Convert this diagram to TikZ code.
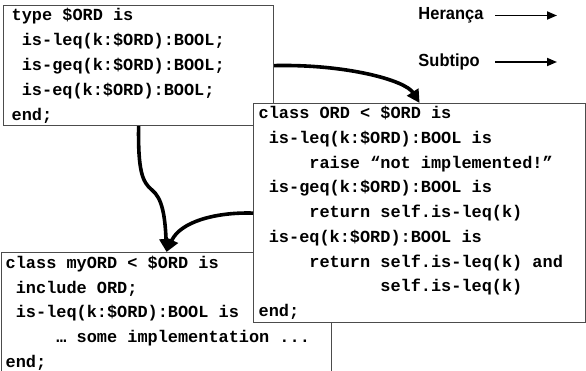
\documentclass[tikz,border=0pt]{standalone}
\usepackage{fontspec}
\setmainfont{Liberation Sans}
\newfontfamily\codefont{Liberation Mono}
\usetikzlibrary{arrows.meta,calc}
\begin{document}
\begin{tikzpicture}[x=1pt,y=-1pt,
  box/.style={draw=black!70, line width=1.2pt, fill=white, anchor=north west, inner sep=0pt},
  % the strut fixes the top of each listing above its first baseline
  code/.style={anchor=north west, align=left, inner sep=0pt,
    font=\codefont\bfseries\fontsize{16.9pt}{24.7pt}\selectfont,
    execute at begin node={\rule{0pt}{15pt}}},
  legend/.style={anchor=west, inner sep=0pt,
    font=\bfseries\fontsize{17.5pt}{19pt}\selectfont},
  link/.style={line width=3.6pt, -{Triangle[length=13pt,width=13pt]}},
  key/.style={line width=1.8pt, -{Triangle[length=10pt,width=8pt]}}]
\useasboundingbox (0,0) rectangle (586,371);
\clip (0,0) rectangle (586,371);
\fill[white] (0,0) rectangle (586,371);

% abstract type
\node[box, minimum width=270pt, minimum height=120pt] (top) at (3,5) {};
\node[code, font=\codefont\bfseries\fontsize{16.9pt}{25pt}\selectfont]
  at ($(top.north west)+(8.5,3)$) {type \$ORD is\\
~is-leq(k:\$ORD):BOOL;\\
~is-geq(k:\$ORD):BOOL;\\
~is-eq(k:\$ORD):BOOL;\\
end;};

% concrete class including ORD
\node[box, minimum width=330pt, minimum height=150pt] (my) at (1,252) {};
\node[code] at ($(my.north west)+(4.5,3.8)$) {class myORD < \$ORD is\\
~include ORD;\\
~is-leq(k:\$ORD):BOOL is\\
~~~~~… some implementation ...\\
end;};

% partial implementation
\node[box, minimum width=332pt, minimum height=219pt] (ord) at (253,103) {};
\node[code] at ($(ord.north west)+(5.5,3.3)$) {class ORD < \$ORD is\\
~is-leq(k:\$ORD):BOOL is\\
~~~~~raise “not implemented!”\\
~is-geq(k:\$ORD):BOOL is\\
~~~~~return self.is-leq(k)\\
~is-eq(k:\$ORD):BOOL is\\
~~~~~return self.is-leq(k) and\\
~~~~~~~~~~~~self.is-leq(k)\\
end;};

% connectors
\draw[link] (top.east) .. controls (345,64) and (405,80) .. (ord.north);
\draw[link] (top.south) .. controls (138,170) and (142,182) .. (152,190)
  .. controls (162,198) and (165,215) .. (my.north);
\draw[link] (ord.west) .. controls (215,212) and (180,222) .. (my.north);

% legend, set slightly condensed
\begin{scope}[xscale=0.94, transform shape]
  \node[legend] (her) at (445,15.5) {Herança};
  \node[legend] (sub) at (445,62) {Subtipo};
\end{scope}
\coordinate (herS) at (495,15.5);
\coordinate (herE) at (557,15.5);
\coordinate (subS) at (495,62);
\coordinate (subE) at (557,62);
\draw[key] (herS) -- (herE);
\draw[key] (subS) -- (subE);
\end{tikzpicture}
\end{document}
